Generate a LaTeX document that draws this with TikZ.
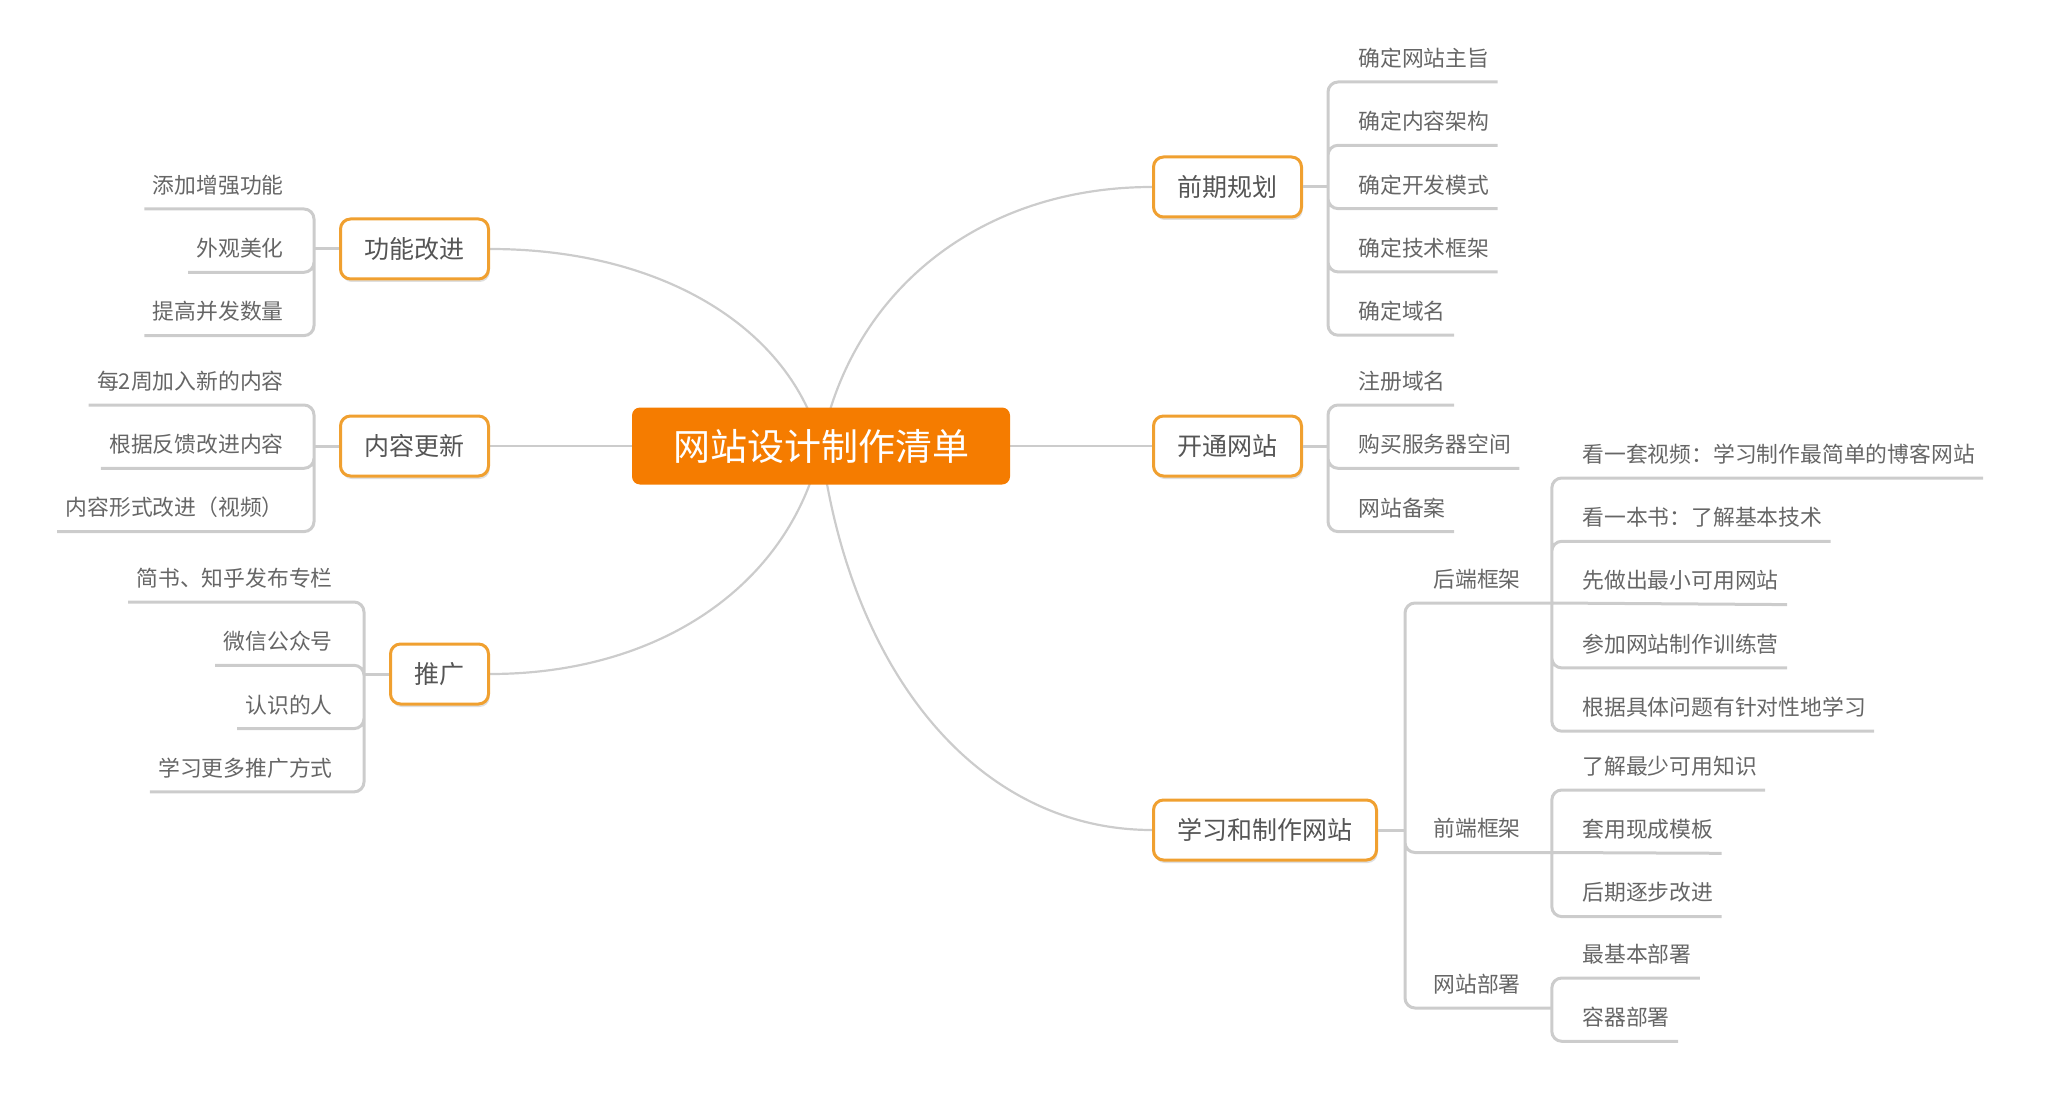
\documentclass[tikz,border=0pt]{standalone}
\usepackage{fontspec}
\newfontfamily\cjk{Noto Sans CJK SC}
\usetikzlibrary{positioning,backgrounds,shadows}
\definecolor{hubfill}{HTML}{F57C00}
\definecolor{topicline}{HTML}{F0A030}
\definecolor{topictext}{HTML}{555555}
\definecolor{leaftext}{HTML}{666666}
\definecolor{twigline}{HTML}{CCCCCC}

\begin{document}
\begin{tikzpicture}[
    x=0.5pt, y=-0.5pt,
    node distance=7.75pt,
    hubbox/.style={rectangle,fill=hubfill,rounded corners=4pt,text=white,minimum width=189pt,minimum height=38.5pt,font=\cjk\fontsize{18.5}{22}\selectfont},
    topic/.style={rectangle,draw=topicline,line width=1.5pt,fill=white,rounded corners=5pt,inner xsep=12pt,minimum height=30pt,text=topictext,font=\cjk\fontsize{12.5}{15}\selectfont,drop shadow={shadow xshift=0.6pt,shadow yshift=-1.5pt,opacity=0.25}},
    leaf/.style={inner xsep=4pt,inner ysep=0pt,minimum height=23.5pt,text=leaftext,font=\cjk\fontsize{10.9}{13}\selectfont},
    subtopic/.style={leaf,text width=55pt,align=left},
    limb/.style={draw=twigline,line width=1.1pt},
    twig/.style={draw=twigline,line width=1.5pt,rounded corners=5pt}]
    \useasboundingbox (0,0) rectangle (2048,1101);

    % centre and main topics
    \node[hubbox] (hub) at (821,446) {网站设计制作清单};
    \node[topic,anchor=west] (plan) at (1152,187) {前期规划};
    \node[topic,anchor=west] (open) at (1152,446) {开通网站};
    \node[topic,anchor=west] (learn) at (1152,830) {学习和制作网站};
    \node[topic,anchor=east] (func) at (490,249) {功能改进};
    \node[topic,anchor=east] (content) at (490,446) {内容更新};
    \node[topic,anchor=east] (promo) at (490,674) {推广};

    \coordinate[right=12.5pt of plan] (pf);
    \coordinate[right=12.5pt of open] (of);
    \coordinate[right=13.5pt of learn] (lf);
    \coordinate[left=12.5pt of func] (ff);
    \coordinate[left=12.5pt of content] (cf);
    \coordinate[left=12.5pt of promo] (mf);

    % right side
    \node[leaf,anchor=south west] (p1) at (1350,82) {确定网站主旨};
    \node[leaf,below=of p1.south west,anchor=north west] (p2) {确定内容架构};
    \node[leaf,below=of p2.south west,anchor=north west] (p3) {确定开发模式};
    \node[leaf,below=of p3.south west,anchor=north west] (p4) {确定技术框架};
    \node[leaf,below=of p4.south west,anchor=north west] (p5) {确定域名};

    \node[leaf,anchor=south west] (o1) at (1350,405) {注册域名};
    \node[leaf,below=of o1.south west,anchor=north west] (o2) {购买服务器空间};
    \node[leaf,below=of o2.south west,anchor=north west] (o3) {网站备案};

    \node[subtopic,anchor=south west] (back) at (1425,603) {后端框架};
    \node[subtopic,anchor=south west] (front) at (1425,852.5) {前端框架};
    \node[subtopic,anchor=south west] (deploy) at (1425,1008) {网站部署};

    \node[leaf,anchor=south west] (b1) at (1574,478) {看一套视频：学习制作最简单的博客网站};
    \node[leaf,below=of b1.south west,anchor=north west] (b2) {看一本书：了解基本技术};
    \node[leaf,below=of b2.south west,anchor=north west] (b3) {先做出最小可用网站};
    \node[leaf,below=of b3.south west,anchor=north west] (b4) {参加网站制作训练营};
    \node[leaf,below=of b4.south west,anchor=north west] (b5) {根据具体问题有针对性地学习};

    \node[leaf,anchor=south west] (f1) at (1574,790) {了解最少可用知识};
    \node[leaf,below=of f1.south west,anchor=north west] (f2) {套用现成模板};
    \node[leaf,below=of f2.south west,anchor=north west] (f3) {后期逐步改进};

    \node[leaf,anchor=south west] (d1) at (1574,978) {最基本部署};
    \node[leaf,below=of d1.south west,anchor=north west] (d2) {容器部署};

    % left side
    \node[leaf,anchor=south east] (g1) at (292,209) {添加增强功能};
    \node[leaf,below=of g1.south east,anchor=north east] (g2) {外观美化};
    \node[leaf,below=of g2.south east,anchor=north east] (g3) {提高并发数量};

    \node[leaf,anchor=south east] (c1) at (292,405) {每2周加入新的内容};
    \node[leaf,below=of c1.south east,anchor=north east] (c2) {根据反馈改进内容};
    \node[leaf,below=of c2.south east,anchor=north east] (c3) {内容形式改进（视频）};

    \node[leaf,anchor=south east] (m1) at (341,602) {简书、知乎发布专栏};
    \node[leaf,below=of m1.south east,anchor=north east] (m2) {微信公众号};
    \node[leaf,below=of m2.south east,anchor=north east] (m3) {认识的人};
    \node[leaf,below=of m3.south east,anchor=north east] (m4) {学习更多推广方式};

    \begin{scope}[on background layer]
    \draw[limb] (hub) -- (open);
    \draw[limb] (hub) -- (content);
    \draw[limb] (hub.center) .. controls +(30,-155) and +(-172,0) .. (plan.west);
    \draw[limb] (hub.center) .. controls +(30,230) and +(-172,0) .. (learn.west);
    \draw[limb] (hub.center) .. controls +(-30,-118) and +(172,0) .. (func.east);
    \draw[limb] (hub.center) .. controls +(-30,137) and +(172,0) .. (promo.east);
    \end{scope}

    \draw[twig] (plan) -- (pf);
    \draw[twig] (pf) |- (p1.south east) (pf) |- (p2.south east) (pf) |- (p3.south east)
      (pf) |- (p4.south east) (pf) |- (p5.south east);
    \draw[twig] (open) -- (of);
    \draw[twig] (of) |- (o1.south east) (of) |- (o2.south east) (of) |- (o3.south east);
    \draw[twig] (learn) -- (lf);
    \draw[twig] (lf) |- (back.south east) (lf) |- (front.south east) (lf) |- (deploy.south east);
    \draw[twig] (back.south east) |- (b1.south east) (back.south east) |- (b2.south east)
      (back.south east) -- (b3.south east) (back.south east) |- (b4.south east)
      (back.south east) |- (b5.south east);
    \draw[twig] (front.south east) |- (f1.south east) (front.south east) -- (f2.south east)
      (front.south east) |- (f3.south east);
    \draw[twig] (deploy.south east) |- (d1.south east) (deploy.south east) |- (d2.south east);

    \draw[twig] (func) -- (ff);
    \draw[twig] (ff) |- (g1.south west) (ff) |- (g2.south west) (ff) |- (g3.south west);
    \draw[twig] (content) -- (cf);
    \draw[twig] (cf) |- (c1.south west) (cf) |- (c2.south west) (cf) |- (c3.south west);
    \draw[twig] (promo) -- (mf);
    \draw[twig] (mf) |- (m1.south west) (mf) |- (m2.south west) (mf) |- (m3.south west)
      (mf) |- (m4.south west);
\end{tikzpicture}
\end{document}
